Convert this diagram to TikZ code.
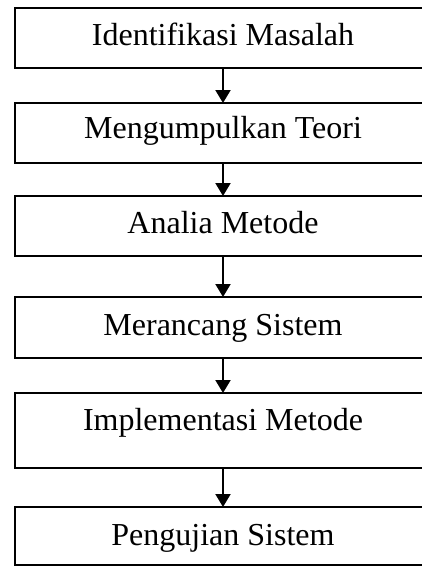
\documentclass[tikz,border=0pt]{standalone}
\usepackage{fontspec}
\setmainfont{Liberation Serif}
\usetikzlibrary{arrows.meta}
\begin{document}
\begin{tikzpicture}[x=1pt,y=-1pt,
  stepbox/.style={draw=black, line width=2.4pt, rectangle, inner sep=0pt, outer sep=0pt,
    minimum width=416pt, font=\fontsize{32}{37}\selectfont, text depth=0pt},
  arr/.style={draw=black, line width=2pt, -{Triangle[width=15pt,length=13pt]}}]
\useasboundingbox (0,0) rectangle (422,568);
\begin{scope}
\clip (0,0) rectangle (422,568);
\node[stepbox, minimum height=60pt, text height=14pt] (b1) at (223,38) {Identifikasi Masalah};
\node[stepbox, minimum height=60pt, text height=10pt] (b2) at (223,133) {Mengumpulkan Teori};
\node[stepbox, minimum height=60pt, text height=14pt] (b3) at (223,226) {Analia Metode};
\node[stepbox, minimum height=61pt, text height=15pt] (b4) at (223,327.5) {Merancang Sistem};
\node[stepbox, minimum height=75pt, text height=0pt, text depth=1pt] (b5) at (223,430.5) {Implementasi Metode};
\node[stepbox, minimum height=58pt, text height=18pt] (b6) at (223,536) {Pengujian Sistem};
\draw[arr] (b1.south) -- (b2.north);
\draw[arr] (b2.south) -- (b3.north);
\draw[arr] (b3.south) -- (b4.north);
\draw[arr] (b4.south) -- (b5.north);
\draw[arr] (b5.south) -- (b6.north);
\end{scope}
\end{tikzpicture}
\end{document}
